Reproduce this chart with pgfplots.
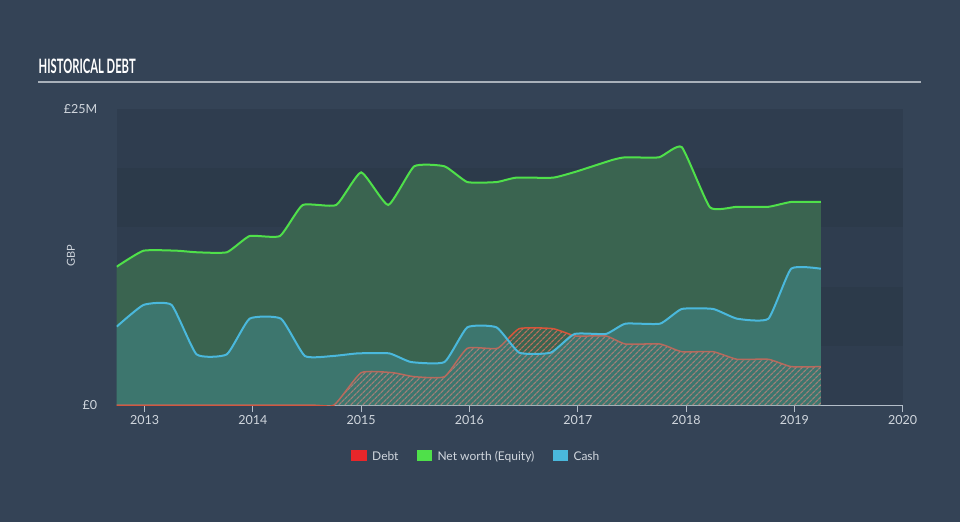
\documentclass[border=0pt]{standalone}
\usepackage{fontspec}
\setmainfont{Lato}
\usepackage{pgfplots}
\pgfplotsset{compat=1.18}
\usepackage{pgfplotstable}
\usetikzlibrary{patterns.meta}

\definecolor{bgout}{HTML}{344356}
\definecolor{bandA}{HTML}{2F3D4F}
\definecolor{bandB}{HTML}{2C3A4A}
\definecolor{eqfill}{HTML}{3A6450}
\definecolor{eqline}{HTML}{4FE04A}
\definecolor{cashline}{HTML}{4AB8DC}
\definecolor{debtline}{HTML}{D8553A}
\definecolor{debthatch}{HTML}{B8705C}
\definecolor{debtleg}{HTML}{E8262A}
\definecolor{axisgray}{HTML}{B4BEC9}
\definecolor{labelgray}{HTML}{D0D6DD}
\definecolor{titleline}{HTML}{A9B1BA}

\pgfplotstableread{
t        equity
2012.743 11.68
2012.99  13.03
2013.30  13.03
2013.48  12.90
2013.76  12.90
2013.97  14.27
2014.25  14.27
2014.46  16.89
2014.77  16.89
2015.00  19.65
2015.25  16.89
2015.49  20.16
2015.77  20.16
2015.98  18.83
2016.25  18.83
2016.43  19.20
2016.77  19.20
2016.98  19.70
2017.32  20.70
2017.44  20.92
2017.75  20.92
2017.96  21.78
2018.22  16.70
2018.47  16.74
2018.76  16.74
2018.97  17.15
2019.244 17.15
}\equity

\pgfplotstableread{
t        cash
2012.743 6.62
2012.99  8.45
2013.25  8.45
2013.48  4.28
2013.76  4.28
2013.97  7.29
2014.26  7.29
2014.48  4.14
2014.74  4.14
2014.97  4.36
2015.26  4.36
2015.46  3.63
2015.77  3.63
2015.98  6.56
2016.25  6.56
2016.46  4.42
2016.75  4.42
2016.97  6.00
2017.26  6.00
2017.44  6.87
2017.76  6.87
2017.96  8.11
2018.25  8.11
2018.47  7.29
2018.76  7.29
2018.97  11.51
2019.244 11.51
}\cash

\pgfplotstableread{
t        debt
2012.743 0
2014.50  0
2014.75  0
2015.00  2.73
2015.29  2.73
2015.49  2.39
2015.77  2.39
2015.98  4.79
2016.26  4.79
2016.46  6.45
2016.77  6.45
2016.98  5.83
2017.26  5.83
2017.44  5.15
2017.76  5.15
2017.96  4.50
2018.25  4.50
2018.47  3.86
2018.76  3.86
2018.97  3.24
2019.244 3.24
}\debt

\begin{document}
\begin{tikzpicture}[x=1pt,y=1pt]
\fill[bgout] (0,0) rectangle (960,522);
\useasboundingbox (0,0) rectangle (960,522);
% title
\node[anchor=south west, inner sep=0pt, text=white] at (38.5,448) {\resizebox{97pt}{14.5pt}{\bfseries HISTORICAL DEBT}};
\draw[titleline, line width=2pt] (38,440) -- (921,440);
% plot bands
\fill[bandA] (116.7,117) rectangle (902.7,176);
\fill[bandB] (116.7,176) rectangle (902.7,235);
\fill[bandA] (116.7,235) rectangle (902.7,295);
\fill[bandB] (116.7,295) rectangle (902.7,354);
\fill[bandA] (116.7,354) rectangle (902.7,413);
\begin{axis}[
  at={(116.7pt,117pt)}, anchor=south west,
  scale only axis, width=786pt, height=296pt,
  xmin=2012.743, xmax=2020, ymin=0, ymax=25,
  axis x line*=bottom, axis y line*=left,
  y axis line style={draw=none},
  x axis line style={color=axisgray, line width=1pt},
  xtick={2013,2014,2015,2016,2017,2018,2019,2020},
  xticklabels={2013,2014,2015,2016,2017,2018,2019,2020},
  ytick={0,25}, yticklabels={£0,£25M},
  tick align=outside, major tick length=7pt,
  xtick style={color=axisgray, line width=1pt},
  ytick style={draw=none},
  xticklabel style={font=\fontsize{12.5}{13}\selectfont, text=labelgray},
  yticklabel style={font=\fontsize{12.5}{13}\selectfont, text=labelgray, xshift=-9pt},
  no markers,
  every axis plot/.append style={smooth, tension=0.28},
]
\addplot[draw=none, fill=eqfill] table[x=t,y=equity]{\equity} \closedcycle;
\addplot[draw=none, pattern={Lines[angle=45,distance=4pt,line width=1.3pt]}, pattern color=debthatch] table[x=t,y=debt]{\debt} \closedcycle;
\addplot[debtline, line width=1.5pt] table[x=t,y=debt]{\debt};
\addplot[draw=none, fill=cashline, fill opacity=0.22] table[x=t,y=cash]{\cash} \closedcycle;
\addplot[cashline, line width=2pt] table[x=t,y=cash]{\cash};
\addplot[eqline, line width=2pt] table[x=t,y=equity]{\equity};
\end{axis}
% y label
\node[rotate=90, text=labelgray, font=\fontsize{11}{12}\selectfont] at (71,266) {GBP};
% legend
\fill[debtleg] (351,61) rectangle (367,72);
\node[anchor=base west, inner sep=0pt, text=labelgray, font=\fontsize{12}{13}\selectfont] at (372,62) {Debt};
\fill[eqline] (416.7,61) rectangle (431.7,72);
\node[anchor=base west, inner sep=0pt, text=labelgray, font=\fontsize{12}{13}\selectfont] at (437.3,62) {Net worth (Equity)};
\fill[cashline] (552.7,61) rectangle (568.3,72);
\node[anchor=base west, inner sep=0pt, text=labelgray, font=\fontsize{12}{13}\selectfont] at (573.3,62) {Cash};
\end{tikzpicture}
\end{document}
